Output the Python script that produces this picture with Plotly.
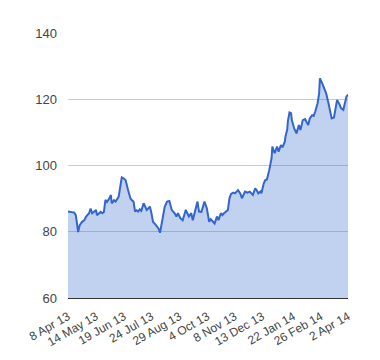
import plotly.graph_objects as go

dates = [
    "2013-04-08", "2013-04-12", "2013-04-16", "2013-04-18", "2013-04-21", "2013-04-23",
    "2013-04-26", "2013-04-29", "2013-05-01", "2013-05-05", "2013-05-07", "2013-05-09",
    "2013-05-11", "2013-05-14", "2013-05-15", "2013-05-18", "2013-05-20", "2013-05-22",
    "2013-05-24", "2013-05-26", "2013-05-28", "2013-05-31", "2013-06-02", "2013-06-03",
    "2013-06-06", "2013-06-08", "2013-06-10", "2013-06-12", "2013-06-15", "2013-06-16",
    "2013-06-19", "2013-06-21", "2013-06-24", "2013-06-27", "2013-06-29", "2013-07-01",
    "2013-07-03", "2013-07-05", "2013-07-07", "2013-07-09", "2013-07-11", "2013-07-14",
    "2013-07-18", "2013-07-20", "2013-07-22", "2013-07-24", "2013-07-26", "2013-07-29",
    "2013-07-31", "2013-08-02", "2013-08-04", "2013-08-06", "2013-08-08", "2013-08-10",
    "2013-08-13", "2013-08-16", "2013-08-19", "2013-08-21", "2013-08-23", "2013-08-25",
    "2013-08-27", "2013-08-30", "2013-09-02", "2013-09-04", "2013-09-06", "2013-09-10",
    "2013-09-13", "2013-09-15", "2013-09-18", "2013-09-21", "2013-09-23", "2013-09-26",
    "2013-09-28", "2013-09-30", "2013-10-03", "2013-10-06", "2013-10-08", "2013-10-10",
    "2013-10-13", "2013-10-16", "2013-10-18", "2013-10-21", "2013-10-23", "2013-10-25",
    "2013-10-28", "2013-10-30", "2013-11-01", "2013-11-03", "2013-11-06", "2013-11-08",
    "2013-11-12", "2013-11-15", "2013-11-17", "2013-11-19", "2013-11-21", "2013-11-24",
    "2013-11-27", "2013-12-01", "2013-12-04", "2013-12-06", "2013-12-08", "2013-12-11",
    "2013-12-12", "2013-12-15", "2013-12-17", "2013-12-19", "2013-12-20", "2013-12-22",
    "2013-12-25", "2013-12-26", "2013-12-29", "2014-01-01", "2014-01-03", "2014-01-06",
    "2014-01-08", "2014-01-11", "2014-01-12", "2014-01-14", "2014-01-15", "2014-01-17",
    "2014-01-19", "2014-01-20", "2014-01-23", "2014-01-26", "2014-01-29", "2014-01-31",
    "2014-02-03", "2014-02-06", "2014-02-10", "2014-02-12", "2014-02-15", "2014-02-17",
    "2014-02-19", "2014-02-22", "2014-02-24", "2014-02-25", "2014-02-28", "2014-03-02",
    "2014-03-05", "2014-03-08", "2014-03-10", "2014-03-12", "2014-03-15", "2014-03-17",
    "2014-03-19", "2014-03-22", "2014-03-24", "2014-03-27", "2014-03-29", "2014-03-31",
    "2014-04-02",
]

values = [
    86.1, 86.0, 85.8, 85.0, 79.9, 82.0,
    83.0, 83.5, 84.5, 85.6, 87.0, 85.6,
    86.0, 86.6, 85.0, 85.8, 86.0, 85.6,
    86.0, 89.6, 89.0, 90.1, 91.1, 88.6,
    89.5, 89.1, 90.1, 90.6, 95.1, 96.4,
    96.0, 95.5, 92.6, 90.1, 89.5, 89.1,
    86.1, 86.5, 86.1, 86.8, 86.3, 88.6,
    86.6, 87.2, 87.6, 85.6, 83.0, 82.2,
    81.5, 81.0, 79.7, 82.5, 85.6, 87.5,
    89.1, 89.3, 86.6, 86.1, 85.5, 84.6,
    85.6, 84.1, 83.5, 85.0, 86.6, 84.6,
    85.6, 83.5, 86.1, 89.1, 86.1, 86.0,
    87.5, 89.1, 87.1, 83.0, 83.8, 83.2,
    82.5, 84.6, 83.5, 85.6, 85.0, 85.6,
    86.1, 86.6, 90.1, 91.4, 91.8, 91.6,
    92.6, 91.5, 90.1, 91.0, 92.1, 91.8,
    92.1, 91.1, 93.1, 92.5, 91.6, 92.2,
    91.6, 94.6, 95.6, 95.8, 96.6, 98.6,
    102.2, 105.7, 103.7, 105.7, 104.2, 106.2,
    105.5, 107.2, 109.0, 110.7, 113.5, 116.0,
    115.8, 113.7, 111.2, 109.7, 112.2, 110.7,
    113.7, 114.0, 112.2, 114.2, 115.2, 115.0,
    116.3, 118.8, 121.8, 126.3, 124.8, 123.8,
    121.8, 118.8, 116.3, 114.2, 114.5, 117.8,
    119.8, 118.5, 117.3, 116.8, 118.8, 120.8,
    121.4,
]

tick_dates = [
    "2013-04-08", "2013-05-14", "2013-06-19", "2013-07-24", "2013-08-29", "2013-10-04",
    "2013-11-08", "2013-12-13", "2014-01-22", "2014-02-26", "2014-04-02",
]
tick_labels = [
    "8 Apr 13", "14 May 13", "19 Jun 13", "24 Jul 13", "29 Aug 13", "4 Oct 13",
    "8 Nov 13", "13 Dec 13", "22 Jan 14", "26 Feb 14", "2 Apr 14",
]
y_ticks = [60, 80, 100, 120, 140]

fig = go.Figure()
fig.add_trace(go.Scatter(
    x=dates, y=values, mode="lines",
    line=dict(color="#3366cc", width=2),
    fill="tozeroy", fillcolor="rgba(51,102,204,0.3)",
    hoverinfo="skip", showlegend=False,
))

fig.update_layout(
    width=380, height=360,
    margin=dict(l=60, r=40, t=25, b=70),
    paper_bgcolor="white", plot_bgcolor="white",
    font=dict(family="Liberation Sans, Arial, sans-serif", size=13, color="#444444"),
    xaxis=dict(
        type="date",
        range=["2013-04-08", "2014-04-02"],
        tickvals=tick_dates, ticktext=tick_labels,
        tickangle=-30, showgrid=False, zeroline=False,
        showline=True, linecolor="#333333", linewidth=1,
        ticks="", ticklabelstandoff=6, fixedrange=True,
        tickfont=dict(size=12),
    ),
    yaxis=dict(
        range=[60, 140], tickvals=y_ticks,
        showgrid=True, gridcolor="#cccccc", gridwidth=1,
        zeroline=False, showline=False, ticks="",
        ticklabelstandoff=10, fixedrange=True,
    ),
)

fig.write_html("out.html")
